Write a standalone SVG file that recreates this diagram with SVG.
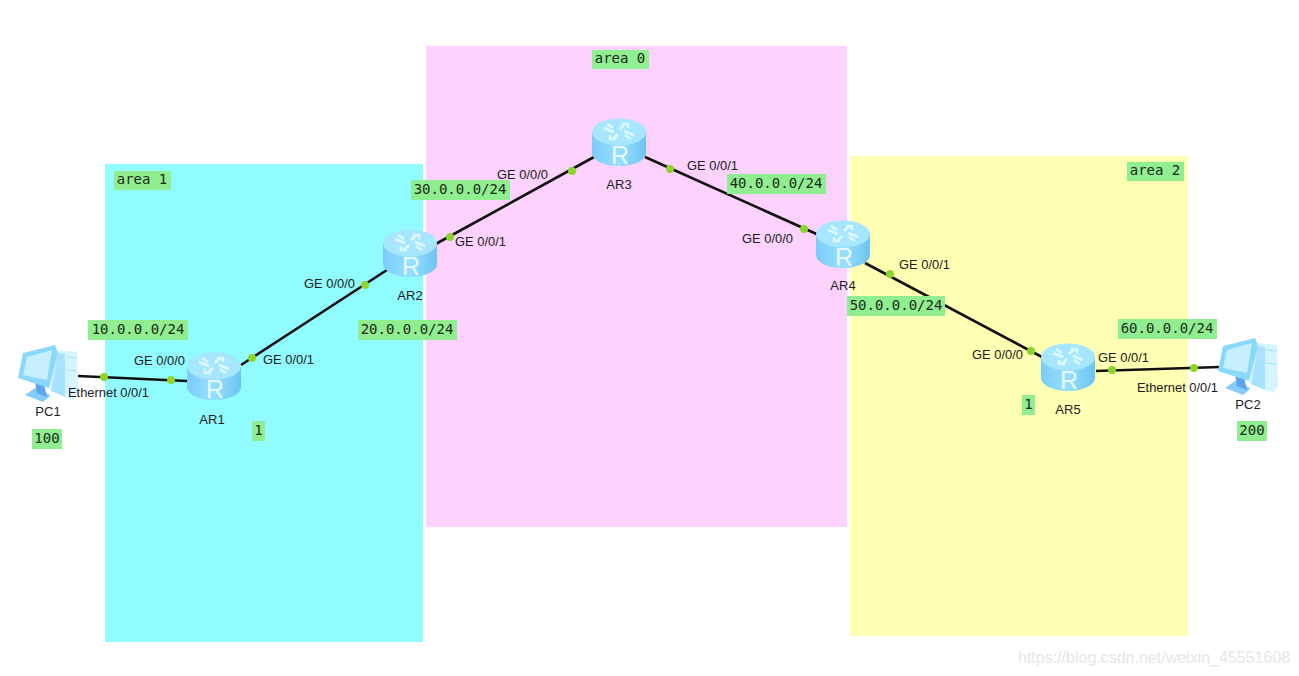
<svg xmlns="http://www.w3.org/2000/svg" width="1299" height="676" viewBox="0 0 1299 676">
<style>
.t{font-family:"Liberation Sans",Arial,sans-serif;font-size:12.9px;fill:#1a1a1a}
.n{font-family:"Liberation Sans",Arial,sans-serif;font-size:13px;fill:#222;text-anchor:middle}
.m{font-family:"DejaVu Sans Mono","Liberation Mono",monospace;font-size:14px;fill:#1a2a1a;text-anchor:middle}
.g{fill:#90ee90}
.l{stroke:#111;stroke-width:2.6;fill:none}
.d{fill:#8fd42c}
.a{stroke:#dff8ff;stroke-width:2.6;fill:none}
.r{font-family:"Liberation Sans",Arial,sans-serif;font-size:25px;fill:#e6faff;text-anchor:middle}
</style>
<defs>
<linearGradient id="rb" x1="0" x2="1" y1="0" y2="0"><stop offset="0" stop-color="#7accf8"/><stop offset=".5" stop-color="#97e0fe"/><stop offset="1" stop-color="#6cc4f2"/></linearGradient>
<g id="router">
<path d="M-27-10V11C-27 18-15 24 0 24S27 18 27 11V-10Z" fill="url(#rb)"/>
<ellipse cx="0" cy="-10" rx="27" ry="13.5" fill="#a6e6ff"/>
<path class="a" d="M-15-14L-5-10M-12-18L-6-14M15-7L5-11M12-3L6-7M6-18L1-13M3-18H9V-14M-6-3L-1-8M-3-3H-9V-7"/>
<text class="r" x="1" y="22">R</text>
</g>
<g id="pc">
<path d="M9-23L29-21 30 20 25 27 1 17Z" fill="#d4f4ff"/>
<path d="M10-20L17-19 17 24 3 18Z" fill="#a8e2ff"/>
<path d="M-23 22L-13 15 2 22 1 24-5 29Z" fill="#86ccf8"/>
<path d="M-13 9L-4 11-1 24-11 20Z" fill="#5aa6ee"/>
<path d="M-25-20L7-28 10-20 1 15-30 5Z" fill="#8ad8fc"/>
<path d="M-21-16L4-23-1 7-25 2Z" fill="#c6f0ff"/>
<path d="M18-16L29-15M18-3L29-2" stroke="#a4e2fb" stroke-width="1.2"/>
</g>
</defs>
<rect width="1299" height="676" fill="#fff"/>
<g id="areas">
<rect x="105" y="164" width="318" height="478" fill="#90fcff"/>
<rect x="426" y="46" width="421" height="481" fill="#fdd2ff"/>
<rect x="850" y="156" width="338" height="480" fill="#ffffb3"/>
</g>
<g id="connectors">
<path class="l" d="M78 376L187 381"/>
<path class="l" d="M241 365L390 268"/>
<path class="l" d="M432 246L594 157"/>
<path class="l" d="M645 157L821 236"/>
<path class="l" d="M865 263L1042 357"/>
<path class="l" d="M1096 371L1220 367"/>
<circle class="d" cx="104" cy="377" r="4"/><circle class="d" cx="171" cy="380" r="4"/>
<circle class="d" cx="252" cy="358" r="4"/><circle class="d" cx="365" cy="285" r="4"/>
<circle class="d" cx="450" cy="237" r="4"/><circle class="d" cx="572" cy="171" r="4"/>
<circle class="d" cx="670" cy="169" r="4"/><circle class="d" cx="804" cy="229" r="4"/>
<circle class="d" cx="890" cy="274" r="4"/><circle class="d" cx="1031" cy="351" r="4"/>
<circle class="d" cx="1112" cy="370" r="4"/><circle class="d" cx="1194" cy="368" r="4"/>
</g>
<g id="PC1"><use href="#pc" x="48" y="373"/><text class="n" x="48" y="416">PC1</text></g>
<g id="AR1"><use href="#router" x="214" y="376"/><text class="n" x="212" y="424">AR1</text></g>
<g id="AR2"><use href="#router" x="410" y="253"/><text class="n" x="410" y="300">AR2</text></g>
<g id="AR3"><use href="#router" x="619" y="142"/><text class="n" x="619" y="189">AR3</text></g>
<g id="AR4"><use href="#router" x="843" y="244"/><text class="n" x="843" y="290">AR4</text></g>
<g id="AR5"><use href="#router" x="1068" y="367"/><text class="n" x="1068" y="414">AR5</text></g>
<g id="PC2"><use href="#pc" x="1248" y="366"/><text class="n" x="1248" y="409">PC2</text></g>
<g id="interface-labels">
<text class="t" x="68" y="397">Ethernet 0/0/1</text>
<text class="t" x="134" y="365">GE 0/0/0</text>
<text class="t" x="263" y="364">GE 0/0/1</text>
<text class="t" x="304" y="288">GE 0/0/0</text>
<text class="t" x="455" y="246">GE 0/0/1</text>
<text class="t" x="497" y="179">GE 0/0/0</text>
<text class="t" x="687" y="170">GE 0/0/1</text>
<text class="t" x="742" y="243">GE 0/0/0</text>
<text class="t" x="899" y="269">GE 0/0/1</text>
<text class="t" x="972" y="359">GE 0/0/0</text>
<text class="t" x="1098" y="362">GE 0/0/1</text>
<text class="t" x="1137" y="392">Ethernet 0/0/1</text>
</g>
<g id="text-labels">
<rect class="g" x="592" y="50" width="57" height="19"/><text class="m" x="620" y="63">area 0</text>
<rect class="g" x="114" y="171" width="57" height="19"/><text class="m" x="142" y="184">area 1</text>
<rect class="g" x="1127" y="162" width="57" height="19"/><text class="m" x="1155" y="175">area 2</text>
<rect class="g" x="88" y="320" width="100" height="20"/><text class="m" x="138" y="334">10.0.0.0/24</text>
<rect class="g" x="358" y="320" width="99" height="20"/><text class="m" x="407" y="334">20.0.0.0/24</text>
<rect class="g" x="411" y="180" width="99" height="20"/><text class="m" x="460" y="194">30.0.0.0/24</text>
<rect class="g" x="727" y="174" width="99" height="20"/><text class="m" x="776" y="188">40.0.0.0/24</text>
<rect class="g" x="847" y="296" width="98" height="20"/><text class="m" x="896" y="310">50.0.0.0/24</text>
<rect class="g" x="1118" y="319" width="99" height="20"/><text class="m" x="1167" y="333">60.0.0.0/24</text>
<rect class="g" x="32" y="429" width="30" height="20"/><text class="m" x="47" y="443">100</text>
<rect class="g" x="1237" y="421" width="30" height="20"/><text class="m" x="1252" y="435">200</text>
<rect class="g" x="252" y="421" width="13" height="20"/><text class="m" x="258.500" y="435">1</text>
<rect class="g" x="1022" y="395" width="13" height="20"/><text class="m" x="1028.500" y="409">1</text>
</g>
<text x="1018" y="663" font-family="Liberation Sans,Arial,sans-serif" font-size="16" fill="#e6e6e6">https://blog.csdn.net/weixin_45551608</text>
</svg>
